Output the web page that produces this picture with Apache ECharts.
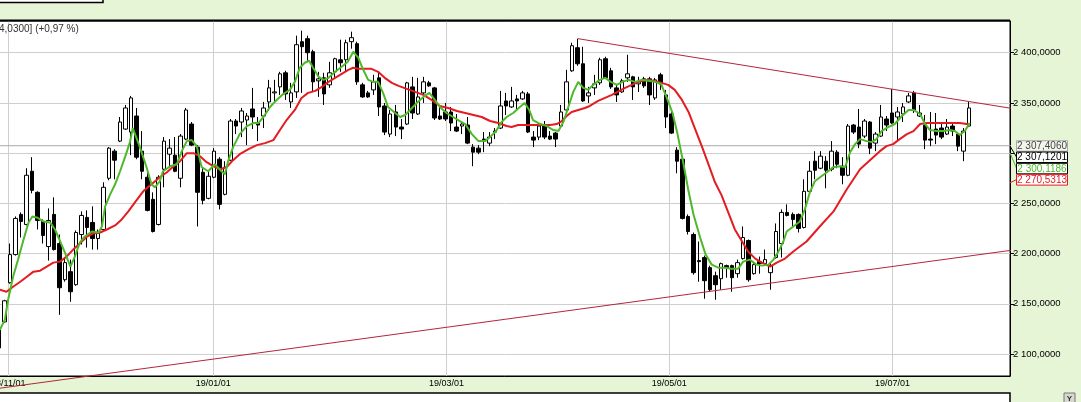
<!DOCTYPE html>
<html><head><meta charset="utf-8">
<script src="https://cdn.jsdelivr.net/npm/echarts@6/dist/echarts.min.js"></script>
<style>html,body{margin:0;padding:0;background:#E6F5D5;}#c{width:1081px;height:402px;}</style>
</head><body><div id="c"></div>
<script>
// daily candles, trading-day index 0..176 : [open, close, low, high]
const candles = [
[2106,2124,2105,2126],[2132,2153,2131,2154],[2171,2199,2170,2210],[2199,2235,2198,2237],[2239,2232,2216,2241],
[2229,2278,2228,2285],[2282,2263,2260,2296],[2261,2233,2224,2262],[2232,2218,2210,2234],[2207,2233,2193,2245],
[2239,2204,2203,2256],[2210,2166,2139,2219],[2174,2191,2172,2196],[2182,2162,2152,2194],[2169,2221,2168,2223],
[2219,2238,2209,2242],[2236,2226,2206,2243],[2231,2215,2204,2247],[2215,2220,2204,2224],[2224,2266,2223,2271],
[2275,2305,2273,2306],[2302,2293,2274,2304],[2312,2331,2311,2336],[2324,2345,2323,2348],[2321,2355,2298,2357],
[2337,2296,2294,2345],[2302,2282,2274,2322],[2276,2243,2242,2282],[2254,2222,2221,2261],[2229,2276,2228,2278],
[2284,2312,2266,2316],[2299,2305,2286,2314],[2298,2282,2281,2316],[2275,2317,2266,2319],[2314,2343,2313,2345],
[2329,2308,2307,2331],[2306,2261,2227,2308],[2281,2253,2249,2286],[2255,2277,2254,2282],[2276,2302,2275,2305],
[2294,2249,2244,2296],[2259,2286,2258,2292],[2293,2332,2292,2334],[2332,2327,2319,2334],[2331,2342,2316,2345],
[2333,2337,2308,2340],[2344,2336,2324,2365],[2330,2328,2312,2336],[2337,2345,2325,2351],[2351,2365,2342,2373],
[2360,2361,2351,2373],[2366,2379,2358,2381],[2380,2359,2353,2382],[2351,2360,2345,2370],[2361,2408,2355,2417],
[2411,2406,2360,2422],[2414,2400,2391,2417],[2401,2371,2361,2403],[2372,2374,2356,2381],[2375,2359,2348,2380],
[2368,2380,2365,2391],[2381,2394,2375,2395],[2393,2390,2381,2413],[2393,2410,2381,2413],[2411,2415,2404,2421],
[2409,2371,2368,2411],[2368,2356,2355,2370],[2360,2356,2355,2362],[2363,2371,2358,2378],[2375,2346,2337,2380],
[2347,2321,2318,2350],[2319,2339,2316,2343],[2341,2326,2317,2348],[2326,2324,2314,2334],[2329,2370,2328,2371],
[2366,2340,2334,2376],[2339,2356,2338,2375],[2360,2371,2350,2376],[2370,2367,2366,2372],[2365,2335,2333,2366],
[2337,2334,2333,2346],[2341,2334,2332,2350],[2341,2330,2322,2346],[2326,2322,2321,2339],[2327,2329,2319,2330],
[2328,2310,2309,2336],[2306,2301,2287,2309],[2305,2301,2299,2308],[2314,2312,2301,2321],[2310,2316,2307,2321],
[2321,2322,2314,2325],[2325,2347,2324,2362],[2352,2347,2338,2360],[2346,2352,2345,2366],[2354,2352,2343,2358],
[2354,2360,2353,2362],[2359,2321,2320,2361],[2316,2313,2306,2322],[2316,2327,2313,2329],[2328,2316,2314,2332],
[2317,2314,2313,2322],[2320,2314,2306,2321],[2327,2341,2326,2348],[2343,2371,2341,2383],[2382,2407,2381,2410],
[2405,2389,2387,2414],[2389,2352,2351,2406],[2357,2360,2350,2366],[2365,2369,2358,2378],[2370,2393,2368,2395],
[2394,2375,2374,2396],[2382,2366,2364,2385],[2365,2358,2351,2368],[2361,2372,2360,2374],[2375,2379,2371,2398],
[2376,2366,2353,2377],[2369,2371,2361,2376],[2374,2367,2365,2376],[2374,2358,2348,2376],[2355,2373,2353,2375],
[2378,2369,2363,2380],[2358,2336,2325,2363],[2339,2320,2319,2343],[2303,2292,2280,2306],[2294,2235,2234,2296],
[2237,2222,2219,2239],[2219,2181,2179,2221],[2193,2192,2172,2212],[2196,2173,2155,2198],[2186,2164,2162,2188],
[2178,2169,2154,2182],[2175,2190,2164,2191],[2188,2186,2176,2189],[2188,2176,2162,2189],[2180,2191,2176,2194],
[2195,2216,2194,2227],[2213,2174,2172,2214],[2180,2189,2179,2191],[2192,2190,2180,2197],[2190,2194,2188,2204],
[2181,2188,2164,2191],[2196,2222,2195,2230],[2210,2241,2196,2244],[2241,2238,2237,2249],[2239,2234,2226,2241],
[2239,2225,2221,2240],[2226,2262,2225,2274],[2262,2282,2261,2292],[2292,2283,2274,2302],[2285,2297,2284,2302],
[2292,2283,2265,2297],[2284,2302,2282,2312],[2301,2289,2285,2303],[2287,2278,2269,2296],[2278,2327,2277,2329],
[2328,2321,2319,2329],[2326,2309,2305,2344],[2317,2332,2315,2334],[2331,2305,2299,2332],[2310,2319,2302,2321],
[2317,2336,2316,2348],[2334,2328,2322,2337],[2340,2330,2329,2364],[2336,2341,2312,2346],[2339,2346,2331,2350],
[2351,2357,2350,2360],[2360,2343,2340,2362],[2337,2340,2336,2348],[2328,2313,2304,2338],[2314,2313,2307,2341],
[2324,2318,2309,2340],[2325,2316,2314,2330],[2319,2326,2318,2334],[2327,2322,2317,2330],[2319,2307,2302,2321],
[2302,2322,2292,2325],[2327,2345,2326,2351]
];
// short moving average (green): [day index, value]
const maFast = [
[0.2,2124],[1.1,2134],[1.7,2154],[2.6,2177],[3.5,2194],[4.5,2214],[5.4,2231],[6.1,2237],[6.9,2236],[8.1,2232],
[9.3,2231],[10.2,2224],[11,2214],[12,2201],[13,2187],[13.8,2197],[14.7,2211],[15.6,2217],[16.9,2222],[18.1,2221],
[18.7,2227],[19.3,2247],[20.2,2259],[21.1,2269],[22,2282],[22.9,2296],[23.8,2311],[24.3,2325],[25.6,2306],[26.8,2286],
[27.7,2269],[28.3,2266],[29.2,2272],[29.8,2282],[31.1,2287],[32.3,2289],[33.2,2302],[34.1,2312],[35,2313],[35.9,2307],
[36.8,2286],[38,2282],[39.2,2289],[40.4,2282],[41,2279],[41.6,2292],[42.5,2306],[43.7,2319],[45,2327],[46.2,2330],
[47.1,2330],[48,2336],[49.2,2346],[50.4,2353],[51.6,2359],[52.8,2363],[53.7,2371],[54.6,2385],[55.5,2390],[56.3,2392],
[57,2385],[58,2376],[58.9,2373],[59.8,2375],[61,2381],[62.2,2386],[63.3,2391],[64.3,2401],[65.2,2395],[66.1,2383],
[67,2373],[67.9,2371],[68.8,2371],[69.7,2360],[70.6,2346],[71.9,2340],[72.8,2336],[73.7,2338],[74.6,2343],[75.8,2350],
[77,2356],[78.1,2360],[79.1,2353],[80,2346],[81.2,2340],[82.4,2336],[83.6,2332],[84.6,2329],[85.8,2319],[87,2312],
[88.2,2312],[89.1,2316],[90.2,2322],[91.2,2331],[92.1,2336],[93.3,2340],[94.5,2346],[95.4,2350],[96.2,2343],[96.9,2333],
[98.2,2329],[99.4,2327],[100.6,2323],[101.5,2322],[102.4,2331],[103.3,2346],[104.2,2361],[105.1,2371],[106,2365],[106.9,2363],
[107.8,2368],[109,2373],[110,2375],[111,2371],[112.1,2368],[113.1,2371],[114.2,2373],[115.4,2371],[116.6,2373],[117.8,2372],
[119,2371],[120.1,2369],[121.1,2356],[122.2,2340],[123.1,2319],[124.2,2289],[125.1,2262],[126,2239],[127.2,2216],[128.2,2199],
[129.3,2189],[130.5,2186],[131.7,2186],[132.9,2185],[134.1,2185],[135,2192],[136.2,2194],[137.4,2189],[138.4,2188],[139.6,2189],
[140.5,2194],[141.4,2202],[142.3,2212],[142.9,2222],[144.1,2227],[145.3,2232],[146.2,2244],[147.1,2261],[148,2272],[149.2,2277],
[150.2,2281],[151.3,2286],[152.6,2287],[153.5,2286],[154.4,2301],[155.3,2309],[156.2,2314],[157.4,2312],[158.3,2311],[159.2,2314],
[160.1,2322],[161.3,2326],[162.5,2329],[163.8,2337],[165,2343],[165.9,2343],[167.1,2339],[168,2329],[168.9,2323],[170.1,2322],
[171.3,2322],[172.5,2323],[173.4,2322],[174.3,2318],[175.2,2322],[176.1,2330]
];
// long moving average (red): [day index, value]
const maSlow = [
[0.2,2164],[1.4,2162],[2.6,2167],[3.9,2172],[5.1,2177],[6.3,2182],[7.5,2183],[8.7,2187],[9.9,2191],[11.1,2192],
[12.3,2197],[13.5,2204],[14.7,2210],[16,2217],[17.1,2220],[18.4,2221],[19.6,2224],[21.1,2228],[22.3,2234],[23.5,2242],
[24.7,2251],[26.2,2262],[27.7,2269],[29.2,2276],[30.5,2281],[31.7,2287],[32.9,2292],[34.1,2300],[35.3,2300],[36.5,2297],
[37.7,2291],[38.9,2287],[40.1,2284],[41.3,2286],[42.5,2293],[43.7,2299],[45.3,2304],[46.8,2308],[48.3,2310],[49.8,2313],
[51,2323],[52.2,2333],[53.7,2343],[54.9,2355],[56.1,2360],[57.4,2362],[58.6,2366],[59.8,2371],[61,2375],[62.2,2379],
[63.4,2383],[64.3,2385],[65.2,2384],[66.4,2384],[67.6,2384],[68.8,2381],[70,2375],[71.3,2370],[72.5,2367],[74,2364],
[75.5,2361],[77,2358],[78.5,2353],[80,2347],[81.5,2345],[83.1,2342],[84.6,2340],[86.1,2338],[87.6,2336],[89.1,2332],
[90.6,2330],[92.1,2327],[93,2326],[94.2,2328],[95.7,2328],[96.9,2328],[98.5,2328],[100,2328],[101.2,2329],[102.1,2332],
[103,2337],[103.9,2341],[105.1,2343],[106.3,2345],[107.2,2347],[108.7,2352],[111.2,2358],[113.6,2365],[116,2371],[117.8,2373],
[119.6,2371],[121.4,2368],[122.6,2363],[123.9,2353],[125.1,2341],[126.3,2324],[127.5,2307],[128.7,2289],[129.9,2271],[131.1,2258],
[132.3,2241],[133.5,2224],[134.7,2213],[135.9,2202],[137.2,2195],[138.4,2191],[139.9,2187],[141.1,2191],[142.6,2195],[144.1,2202],
[146.5,2212],[148.9,2227],[151.4,2242],[153.8,2264],[156.2,2284],[158.6,2296],[159.8,2302],[161,2307],[162.2,2309],[163.4,2314],
[164.7,2319],[165.9,2322],[167.1,2329],[168.3,2330],[169.5,2330],[170.7,2330],[171.9,2330],[173.1,2330],[174.3,2330],[175.5,2329],
[176.1,2329]
];
const trendUpper = [[105.05,2414],[193.4,2336]];
const trendLower = [[0,2065.8],[193.4,2210.6]];
const crossValue = 2307.406;
const monthTicks = [1.73,38.9,81.2,121.6,162.1];
const monthLabels = ['18/11/01','19/01/01','19/03/01','19/05/01','19/07/01'];
const priceTicks = [2100,2150,2200,2250,2300,2350,2400];
const priceLabels = [2100,2150,2200,2250,2350,2400];
const boxValues = [2307.1201,2300.1186,2270.5313];
const headerText = '4,0300] (+0,97 %)';

const FONT = 'Liberation Sans, Arial, sans-serif';
const GREEN = '#4DB82A', RED = '#E41C22', TREND = '#B5253A';
function fmt(v){
  const s = v.toFixed(4); const parts = s.split('.');
  const ip = parts[0].replace(/\B(?=(\d{3})+(?!\d))/g,' ');
  return ip + ',' + parts[1];
}
const chart = echarts.init(document.getElementById('c'), null, {renderer:'canvas'});
const option = {
  animation:false,
  backgroundColor:'#E6F5D5',
  grid:{left:-1,right:71,top:21,bottom:26,outerBoundsMode:'none',containLabel:false,show:true,backgroundColor:'#ffffff',borderColor:'#000',borderWidth:1},
  xAxis:{type:'value',min:0.044,max:183.4,
    axisLine:{show:true,lineStyle:{color:'#000',width:1}},
    axisTick:{show:false,customValues:monthTicks},
    splitLine:{show:true,lineStyle:{color:'#CFCFCF',width:1}},
    axisLabel:{customValues:monthTicks,margin:3,fontSize:9,fontFamily:FONT,color:'#000',hideOverlap:false,
      formatter:(v)=>{const k=monthTicks.indexOf(v);return k>=0?monthLabels[k]:'';}}},
  yAxis:{type:'value',position:'right',min:2078.1,max:2431.6,
    axisLine:{show:true,lineStyle:{color:'#000',width:1}},
    axisTick:{show:true,inside:false,length:4,customValues:priceTicks,lineStyle:{color:'#000'}},
    splitLine:{show:true,lineStyle:{color:'#CFCFCF',width:1}},
    axisLabel:{customValues:priceLabels,margin:3,fontSize:9.5,fontFamily:FONT,color:'#000',formatter:(v)=>fmt(v)}},
  series:[
    {type:'line',data:[[0,crossValue],[195.2,crossValue]],symbol:'none',clip:false,silent:true,
      lineStyle:{color:'#A8A8A8',width:1},z:1},
    {type:'candlestick',data:candles.map((d,i)=>[i].concat(d)),barWidth:4,z:2,
      itemStyle:{color:'#ffffff',color0:'#000000',borderColor:'#000000',borderColor0:'#000000',borderWidth:1}},
    {type:'line',data:trendUpper,symbol:'none',clip:false,lineStyle:{color:TREND,width:1},z:3},
    {type:'line',data:trendLower,symbol:'none',clip:false,lineStyle:{color:TREND,width:1},z:3},
    {type:'line',data:maSlow,symbol:'none',lineStyle:{color:RED,width:2},z:4},
    {type:'line',data:maFast,symbol:'none',lineStyle:{color:GREEN,width:2},z:5}
  ]
};
chart.setOption(option);
const gy = (v)=>chart.convertToPixel({yAxisIndex:0},v);
const ax = 1010;
const yA = gy(crossValue);
const stepY = 11.3;
const colors = ['#000000',GREEN,RED];
const borders = ['#000000','#000000',RED];
const g = [];
g.push({type:'rect',shape:{x:-1,y:-12,width:104,height:14.5},style:{fill:'#ffffff',stroke:'#000',lineWidth:1.5},z:100});
g.push({type:'line',shape:{x1:0,y1:20.5,x2:1010,y2:20.5},style:{stroke:'#000',lineWidth:2},z:100});
g.push({type:'text',x:-1,y:24,style:{text:headerText,font:'10px '+FONT,fill:'#333'},z:100});
g.push({type:'rect',shape:{x:1016.5,y:yA-5,width:51,height:10.5},style:{fill:'#F2F5EC',stroke:'#A8A8A8',lineWidth:1},z:100});
g.push({type:'text',x:1042,y:yA+0.5,style:{text:fmt(crossValue),font:'10px '+FONT,fill:'#444',align:'center',verticalAlign:'middle'},z:101});
boxValues.forEach((v,k)=>{
  const cy = yA + stepY*(k+1);
  g.push({type:'line',shape:{x1:ax,y1:gy(v),x2:1016.5,y2:cy},style:{stroke:colors[k],lineWidth:1},z:100});
  g.push({type:'rect',shape:{x:1016.5,y:cy-5,width:51,height:10.5},style:{fill:'#ffffff',stroke:borders[k],lineWidth:1},z:100});
  g.push({type:'text',x:1042,y:cy+0.5,style:{text:fmt(v),font:'10px '+FONT,fill:colors[k],align:'center',verticalAlign:'middle'},z:101});
});
g.push({type:'rect',shape:{x:-1,y:393,width:1011,height:20},style:{fill:'#ffffff',stroke:'#000',lineWidth:1.5},z:100});
g.push({type:'rect',shape:{x:1064,y:393,width:11,height:10},style:{fill:'#D8D8D0',stroke:'#777',lineWidth:1},z:100});
g.push({type:'text',x:1069.5,y:398.5,style:{text:'Y',font:'bold 8px '+FONT,fill:'#333',align:'center',verticalAlign:'middle'},z:101});
chart.setOption({graphic:g});
</script></body></html>
